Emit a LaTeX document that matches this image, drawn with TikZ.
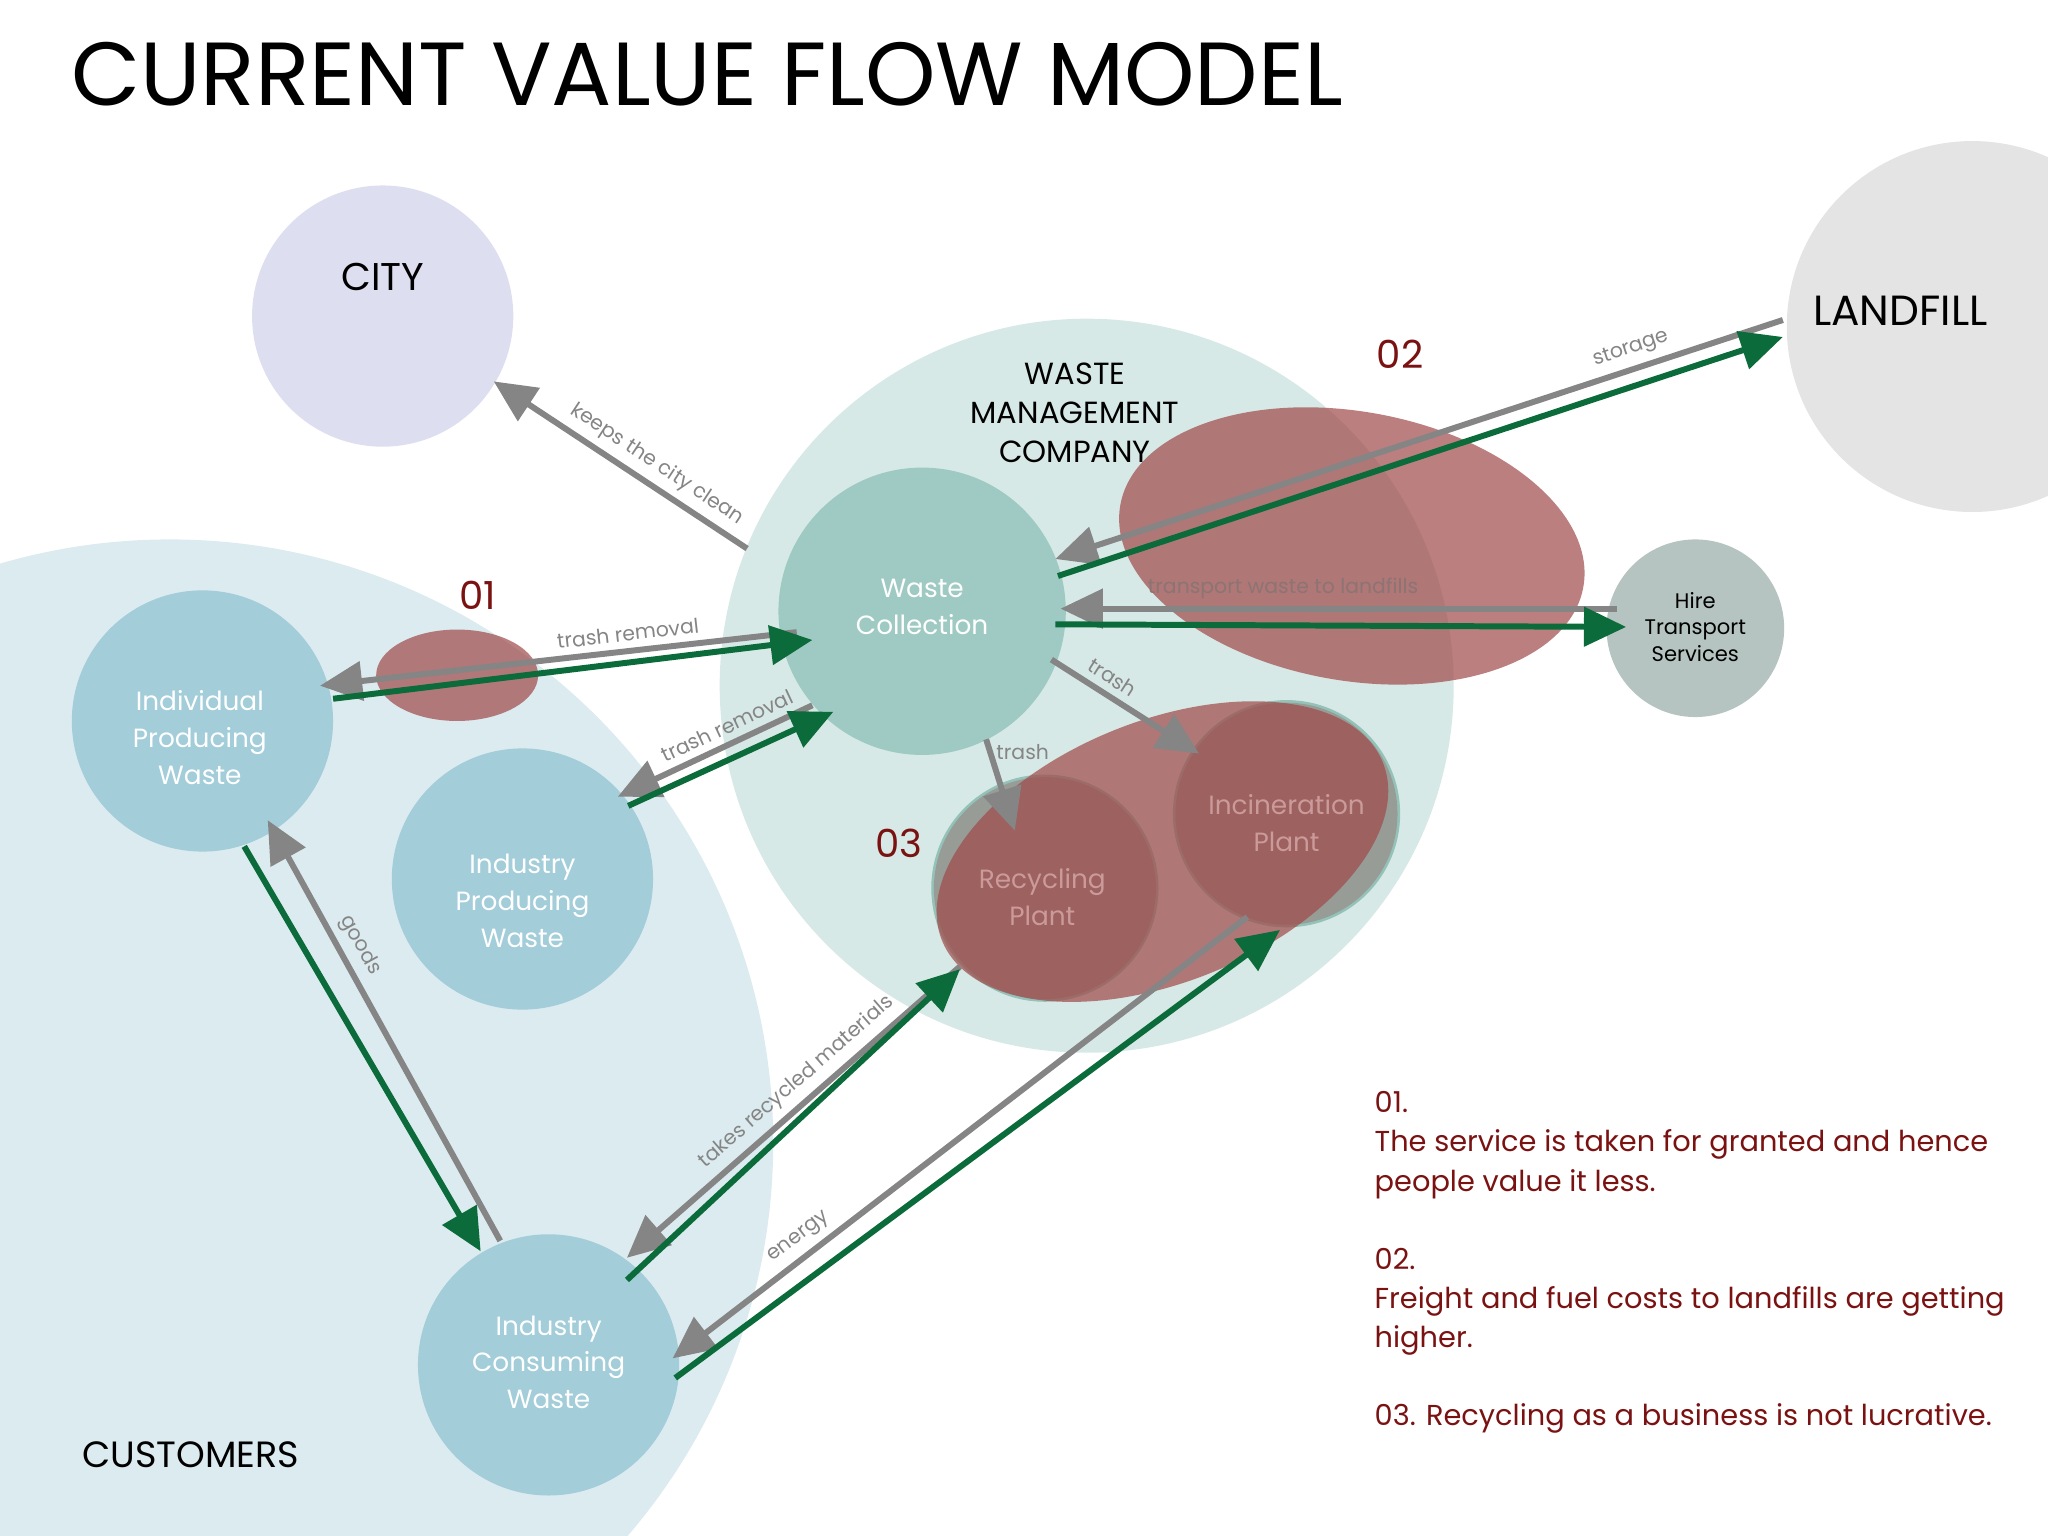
\documentclass[tikz,border=0pt]{standalone}
\usepackage{fontspec}
\setmainfont{Poppins}
\usetikzlibrary{arrows.meta}
\definecolor{custColor}{HTML}{DCEBF0}
\definecolor{cityColor}{HTML}{DDDFF0}
\definecolor{wmcColor}{HTML}{D7E9E6}
\definecolor{landColor}{HTML}{E4E4E4}
\definecolor{hireColor}{HTML}{B5C4C0}
\definecolor{wcColor}{HTML}{9FCAC3}
\definecolor{custNode}{HTML}{A2CDD9}
\definecolor{plantColor}{HTML}{94C2B9}
\definecolor{issueColor}{HTML}{A04848}
\definecolor{noteColor}{HTML}{7A1212}
\definecolor{flowGray}{HTML}{858585}
\definecolor{flowGreen}{HTML}{0B6B3A}
\tikzset{
  grayflow/.style={draw=flowGray,line width=1.7pt,-{Triangle[length=12pt,width=11pt]}},
  greenflow/.style={draw=flowGreen,line width=1.7pt,-{Triangle[length=12pt,width=11pt]}},
  flowlabel/.style={text=flowGray,font=\fontsize{5.8}{7}\selectfont,sloped,above,inner sep=2pt},
  nodetext/.style={text=white,align=center,font=\fontsize{7.5}{10.5}\selectfont},
  issue/.style={fill=issueColor,fill opacity=0.7},
  issuenum/.style={text=noteColor,font=\fontsize{11}{13}\selectfont}
}
\begin{document}
\begin{tikzpicture}[x=0.013061cm,y=-0.013061cm]
  \useasboundingbox (0,0) rectangle (1568,1176);
  \begin{scope}
    \clip (0,0) rectangle (1568,1176);
    % Backgrounds
    \fill[custColor] (130,875) circle (462);
    \fill[wmcColor] (832,525) circle (281);
    \fill[landColor] (1510,250) circle (142);
  \end{scope}
  \fill[cityColor] (293,242) circle (100);
  \fill[hireColor] (1298,481) circle (68);
  \fill[wcColor] (706,468) circle (110);
  \fill[custNode] (155,552) circle (100);
  \fill[custNode] (400,673) circle (100);
  \fill[custNode] (420,1045) circle (100);
  \fill[plantColor] (800,680) circle (87);
  \fill[plantColor] (985,623) circle (87);
  % Issues
  \fill[issue] (350,517) ellipse (62 and 35);
  \fill[issue,rotate around={-10:(1035,418)}] (1035,418) ellipse (180 and 103);
  \fill[issue,rotate around={22:(890,652)}] (890,652) ellipse (182 and 100);
  \fill[issueColor,fill opacity=0.3] (800,680) circle (85);
  \fill[issueColor,fill opacity=0.3] (985,623) circle (85);
  % Titles and node texts
  \node[anchor=west,font=\fontsize{25.5}{28}\selectfont] (title) at (45,57) {CURRENT VALUE FLOW MODEL};
  \node[font=\fontsize{11}{13}\selectfont] (city) at (293,212) {CITY};
  \node[font=\fontsize{12}{14}\selectfont] (landfill) at (1455,238) {LANDFILL};
  \node[align=center,font=\fontsize{8.7}{11.2}\selectfont] (wmc) at (823,316) {WASTE\\MANAGEMENT\\COMPANY};
  \node[font=\fontsize{10.4}{12}\selectfont] (customers) at (146,1114) {CUSTOMERS};
  \node[nodetext] (wc) at (706,465) {Waste\\Collection};
  \node[nodetext] (ipw) at (153,565) {Individual\\Producing\\Waste};
  \node[nodetext] (inpw) at (400,690) {Industry\\Producing\\Waste};
  \node[nodetext] (icw) at (420,1043) {Industry\\Consuming\\Waste};
  \node[nodetext,text=issueColor!55!white] (rp) at (798,687) {Recycling\\Plant};
  \node[nodetext,text=issueColor!55!white] (ip) at (985,630) {Incineration\\Plant};
  \node[align=center,font=\fontsize{6}{7.5}\selectfont] (hire) at (1298,480) {Hire\\Transport\\Services};
  \node[issuenum] (n01) at (366,456) {01};
  \node[issuenum] (n02) at (1072,271) {02};
  \node[issuenum] (n03) at (688,646) {03};
  % Flows
  \coordinate (a1) at (572,420); \coordinate (a2) at (378,292);
  \draw[grayflow] (a1) -- node[flowlabel,pos=0.4]{keeps the city clean} (a2);
  \coordinate (b1) at (610,484); \coordinate (b2) at (245,525);
  \coordinate (b3) at (255,535); \coordinate (b4) at (622,490);
  \draw[grayflow] (b1) -- node[flowlabel,pos=0.35]{trash removal} (b2);
  \draw[greenflow] (b3) -- (b4);
  \coordinate (c1) at (622,540); \coordinate (c2) at (473,610);
  \coordinate (c3) at (481,617); \coordinate (c4) at (638,545);
  \draw[grayflow] (c1) -- node[flowlabel,pos=0.4]{trash removal} (c2);
  \draw[greenflow] (c3) -- (c4);
  \coordinate (d1) at (1365,245); \coordinate (d2) at (808,428);
  \coordinate (d3) at (810,441); \coordinate (d4) at (1365,258);
  \draw[grayflow] (d1) -- node[flowlabel,pos=0.2]{storage} (d2);
  \draw[greenflow] (d3) -- (d4);
  \coordinate (e1) at (1238,466); \coordinate (e2) at (812,466);
  \coordinate (e3) at (808,478); \coordinate (e4) at (1245,480);
  \draw[grayflow] (e1) -- node[flowlabel,pos=0.6,text=flowGray!70!issueColor]{transport waste to landfills} (e2);
  \draw[greenflow] (e3) -- (e4);
  \coordinate (f1) at (805,505); \coordinate (f2) at (918,577);
  \draw[grayflow] (f1) -- node[flowlabel,pos=0.35]{trash} (f2);
  \coordinate (g1) at (755,566); \coordinate (g2) at (777,636);
  \draw[grayflow] (g1) -- (g2);
  \node[text=flowGray,font=\fontsize{5.8}{7}\selectfont] (trashlbl) at (783,576) {trash};
  \coordinate (h1) at (187,648); \coordinate (h2) at (368,958);
  \coordinate (h3) at (383,950); \coordinate (h4) at (205,628);
  \draw[greenflow] (h1) -- (h2);
  \draw[grayflow] (h3) -- node[flowlabel,pos=0.68]{goods} (h4);
  \coordinate (i1) at (735,740); \coordinate (i2) at (480,963);
  \coordinate (i3) at (480,980); \coordinate (i4) at (735,742);
  \draw[grayflow] (i1) -- node[flowlabel,pos=0.45]{takes recycled materials} (i2);
  \draw[greenflow] (i3) -- (i4);
  \coordinate (j1) at (955,702); \coordinate (j2) at (515,1040);
  \coordinate (j3) at (517,1055); \coordinate (j4) at (980,712);
  \draw[grayflow] (j1) -- node[flowlabel,pos=0.76]{energy} (j2);
  \draw[greenflow] (j3) -- (j4);
  % Notes
  \node[anchor=north west,text=noteColor,align=left,font=\fontsize{8.2}{11.2}\selectfont] (notes) at (1043,826)
    {01.\\The service is taken for granted and hence\\people value it less.\\[11pt]
     02.\\Freight and fuel costs to landfills are getting\\higher.\\[11pt]
     03. Recycling as a business is not lucrative.};
\end{tikzpicture}
\end{document}
